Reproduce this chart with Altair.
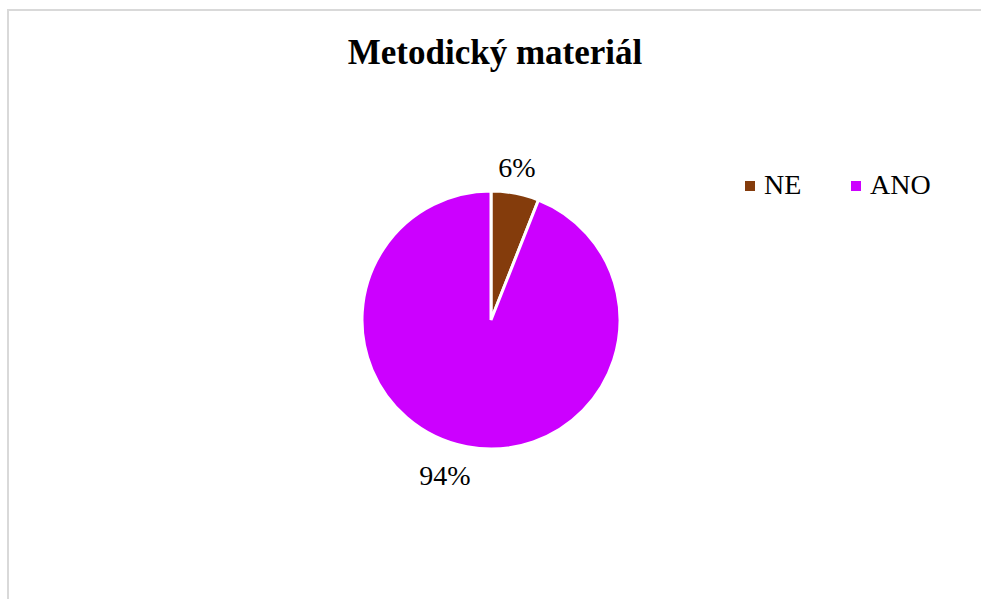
import altair as alt
import pandas as pd

categories = ["NE", "ANO"]
values = [6, 94]
labels = ["6%", "94%"]
colors = ["#843C0C", "#CC00FF"]
order = [0, 1]

df = pd.DataFrame({"cat": categories, "val": values, "lab": labels, "ord": order})

CX, CY, R = 491, 320, 129
FONT = "Liberation Serif"

arcs = alt.Chart(df).mark_arc(x=CX, y=CY, outerRadius=R, stroke="white", strokeWidth=3).encode(
    theta=alt.Theta("val:Q", stack=True),
    order=alt.Order("ord:Q"),
    color=alt.Color(
        "cat:N",
        scale=alt.Scale(domain=categories, range=colors),
        sort=categories,
        legend=alt.Legend(
            title=None,
            orient="none",
            legendX=736,
            legendY=172,
            direction="horizontal",
            symbolType="square",
            symbolSize=100,
            symbolStrokeWidth=0,
            labelFont=FONT,
            labelFontSize=28,
            labelColor="#000000",
            labelOffset=0,
            columnPadding=40,
            padding=0,
        ),
    ),
)


def label_layer(cat, radius, dx):
    return alt.Chart(df).transform_window(
        s1="sum(val)", sort=[alt.SortField("ord")], frame=[None, 0]
    ).transform_calculate(
        mid="datum.s1 - datum.val / 2"
    ).transform_filter(alt.datum.cat == cat).mark_text(
        x=CX, y=CY, radius=radius, font=FONT, fontSize=28, color="#000000", dx=dx,
        align="center", baseline="middle"
    ).encode(
        theta=alt.Theta("mid:Q", scale=alt.Scale(domain=[0, 100])),
        text="lab:N",
    )


lab_ne = label_layer("NE", 154, -3)
lab_ano = label_layer("ANO", 160, -16)

title = alt.Chart(pd.DataFrame({"t": ["Metodický materiál"]})).mark_text(
    font=FONT, fontSize=35, fontWeight="bold", color="#000000", baseline="middle", align="center"
).encode(x=alt.value(495), y=alt.value(53), text="t:N")

frame = alt.Chart(pd.DataFrame({"a": [0]})).mark_rect(
    fill=None, stroke="#D9D9D9", strokeWidth=2
).encode(x=alt.value(8), x2=alt.value(1010), y=alt.value(10), y2=alt.value(640))

chart = alt.layer(frame, arcs, lab_ne, lab_ano, title).properties(
    width=981, height=599, padding=0, autosize=alt.AutoSizeParams(type="none"),
    background="white"
).configure_view(stroke=None)

chart.save("out.html", embed_options={"renderer": "svg", "actions": False})
